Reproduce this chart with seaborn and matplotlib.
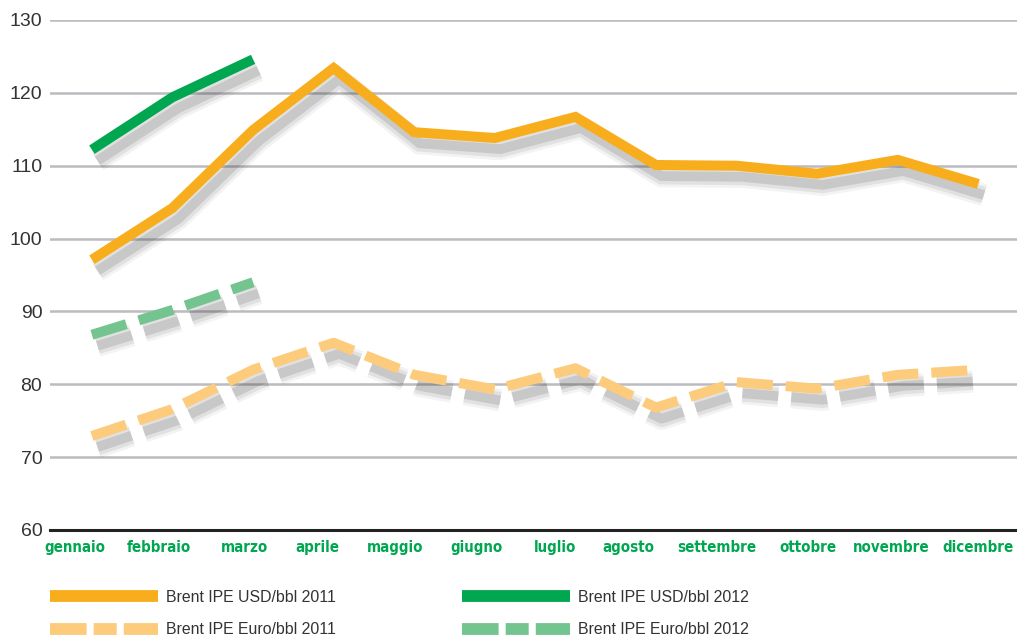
import numpy as np
import pandas as pd
import matplotlib.pyplot as plt
import matplotlib.patheffects as pe
import matplotlib.transforms as mtransforms
from matplotlib.lines import Line2D
import seaborn as sns

# month labels
mesi = ['gennaio', 'febbraio', 'marzo', 'aprile', 'maggio', 'giugno',
        'luglio', 'agosto', 'settembre', 'ottobre', 'novembre', 'dicembre']

# values
usd_2011 = [97.1, 104.2, 114.9, 123.4, 114.6, 113.8, 116.7, 110.1, 110.0, 108.9, 110.8, 107.5]
usd_2012 = [112.2, 119.4, 124.6]
eur_2011 = [72.9, 76.6, 82.0, 85.7, 81.3, 79.3, 82.2, 76.8, 80.3, 79.4, 81.3, 82.0]
eur_2012 = [86.8, 90.2, 94.0]

yticks = [60, 70, 80, 90, 100, 110, 120, 130]

# the month labels are not centred on the points in the original (pixels)
label_shift = [-17, -14, -9, -16, -19, -18, -20, -28, -20, -9, -7, 0]

c_usd11 = '#F8AE1C'
c_usd12 = '#00A650'
c_eur11 = '#FDCB7C'
c_eur12 = '#73C48F'
dash = (0, (3.6, 1.3))

sns.set_style('white')
plt.rcParams['font.family'] = ['Liberation Sans', 'DejaVu Sans']

fig = plt.figure(figsize=(10.17, 6.39), dpi=100)
ax = fig.add_axes([50 / 1017, 1 - 530 / 639, 1 - 50 / 1017, 510 / 639])

# soft drop shadow made of a few wide, faint layers
shadow = [
    pe.SimpleLineShadow(offset=(4, -8), shadow_color='#333333', alpha=0.06, rho=1, linewidth=16),
    pe.SimpleLineShadow(offset=(4, -8), shadow_color='#333333', alpha=0.09, rho=1, linewidth=12),
    pe.SimpleLineShadow(offset=(4, -8), shadow_color='#333333', alpha=0.14, rho=1, linewidth=7),
    pe.Normal(),
]

series = [
    (usd_2011, c_usd11, '-'),
    (eur_2011, c_eur11, dash),
    (usd_2012, c_usd12, '-'),
    (eur_2012, c_eur12, dash),
]
for vals, col, ls in series:
    x = np.arange(len(vals))
    sns.lineplot(x=x, y=vals, color=col, linewidth=7.2, linestyle=ls, ax=ax,
                 solid_joinstyle='miter', solid_capstyle='butt', dash_capstyle='butt',
                 path_effects=shadow, zorder=3)

ax.set_xlim(-0.52, 11.48)
ax.set_ylim(60, 130)
ax.set_yticks(yticks)
ax.set_yticklabels([str(v) for v in yticks], fontsize=14, color='#333333')
ax.set_xticks(np.arange(len(mesi)))
ax.set_xticklabels(mesi, fontsize=10.8, fontweight='bold', color='#00A650',
                   family='DejaVu Sans', fontstretch='condensed')
ax.tick_params(axis='y', length=0, pad=5.5)
ax.tick_params(axis='x', length=0, pad=7)
for lab, dx in zip(ax.get_xticklabels(), label_shift):
    shift = mtransforms.ScaledTranslation(dx / 100, 0, fig.dpi_scale_trans)
    lab.set_transform(lab.get_transform() + shift)
ax.grid(axis='y', color='#BBBBC0', linewidth=1.8)
ax.grid(axis='x', visible=False)
for s in ['top', 'right', 'left']:
    ax.spines[s].set_visible(False)
ax.spines['bottom'].set_color('#222222')
ax.spines['bottom'].set_linewidth(2.2)
ax.spines['bottom'].set_zorder(4)
ax.set_xlabel('')
ax.set_ylabel('')

# legend at the bottom, two columns
leg_dash = (0, (3.1, 0.6, 1.95, 0.6, 3.1, 5))
h1 = [Line2D([], [], color=c_usd11, lw=8.5, solid_capstyle='butt'),
      Line2D([], [], color=c_eur11, lw=8.5, linestyle=leg_dash, dash_capstyle='butt')]
h2 = [Line2D([], [], color=c_usd12, lw=8.5, solid_capstyle='butt'),
      Line2D([], [], color=c_eur12, lw=8.5, linestyle=leg_dash, dash_capstyle='butt')]
legkw = dict(loc='upper left', frameon=False, fontsize=11.4, handlelength=6.8,
             handletextpad=0.5, labelspacing=1.1, borderpad=0, borderaxespad=0,
             labelcolor='#333333')
fig.legend(h1, ['Brent IPE USD/bbl 2011', 'Brent IPE Euro/bbl 2011'],
           bbox_to_anchor=(50 / 1017, 1 - 590 / 639), **legkw)
fig.legend(h2, ['Brent IPE USD/bbl 2012', 'Brent IPE Euro/bbl 2012'],
           bbox_to_anchor=(462 / 1017, 1 - 590 / 639), **legkw)

fig.savefig('out.png', dpi=100)
